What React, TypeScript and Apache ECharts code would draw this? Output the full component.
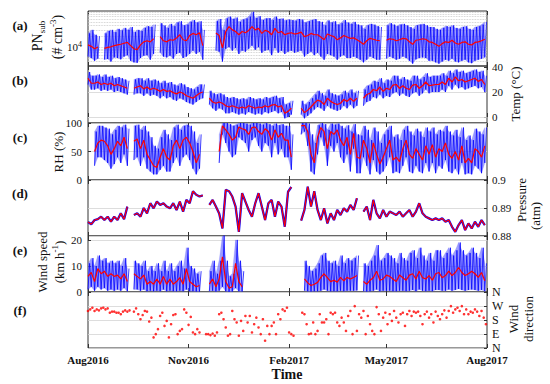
import React, { useEffect, useRef } from 'react';
import * as echarts from 'echarts';

// ---------- data (3-day sampling from 1 Aug 2016) ----------
const START = new Date(2016, 7, 1).getTime();
const END = new Date(2017, 7, 1).getTime();
const DAY = 86400000;
const STEP_DAYS = 3;
const DIR_STEP_DAYS = 2;
const TICK_DATES: number[][] = [[2016, 7, 1], [2016, 10, 1], [2017, 1, 1], [2017, 4, 1], [2017, 7, 1]];
const MONTHS = ['Jan', 'Feb', 'Mar', 'Apr', 'May', 'Jun', 'Jul', 'Aug', 'Sep', 'Oct', 'Nov', 'Dec'];

// (a) PN_sub, # cm^-3
const PN_RED = [11500,10500,9000,10000,null,9200,9800,10200,11000,11500,12000,12800,13500,11000,9000,8500,11500,14000,15000,14000,17000,null,19500,15000,14000,16000,15500,18000,22000,16000,15000,21000,24000,22000,25000,11000,null,null,null,24500,21000,9500,27000,37000,30000,27000,22000,27000,25000,29000,37000,30000,33000,24000,29000,27000,22000,33000,25000,27000,22000,24000,25000,23000,24000,26000,19500,21000,24000,22000,22000,19000,16000,23000,21000,19500,16000,18000,21000,19000,17500,18000,16000,14000,12000,15000,17500,16500,15500,15000,null,15500,17000,16500,15000,16000,17500,17000,14000,12000,15500,16000,17000,16500,14000,13500,12000,10500,12500,14000,13500,15500,13000,12000,13500,14000,12000,11500,13500,14000,15000,16500];
const PN_HI = [24000,30000,22000,20000,null,24000,28000,30000,26000,32000,29000,34000,30000,36000,26000,30000,28000,34000,38000,36000,42000,null,46000,40000,34000,44000,38000,48000,52000,40000,42000,50000,56000,48000,52000,30000,null,null,null,52000,60000,30000,62000,70000,60000,66000,50000,58000,62000,70000,95000,64000,72000,56000,62000,64000,56000,70000,60000,62000,55000,58000,56000,54000,60000,58000,48000,52000,56000,60000,52000,50000,40000,55000,48000,52000,42000,46000,56000,48000,44000,50000,42000,40000,32000,40000,44000,42000,38000,36000,null,40000,46000,42000,38000,42000,44000,40000,36000,32000,40000,42000,44000,40000,36000,36000,32000,30000,34000,38000,36000,40000,34000,32000,36000,38000,32000,30000,36000,38000,42000,50000];
const PN_LO = [5500,5000,4200,4800,null,4500,4700,4000,5200,5000,4600,5500,6000,4200,3800,3700,5000,5800,6000,4500,6500,null,7000,5500,5200,5800,4800,6500,7000,5000,5500,6500,8000,6500,7500,4500,null,null,null,8000,7500,4000,9000,10000,8000,9500,6500,8000,7500,9000,11000,8500,10000,7000,8000,8500,6000,9500,7000,8000,6500,7500,8000,7000,7500,8000,5500,6500,7500,6000,7000,5500,4500,6500,6000,5500,4500,5500,6000,5000,5000,5500,5000,4500,3800,4500,5500,5000,4500,4500,null,4800,5500,5000,4500,4800,5500,5000,4200,3500,4600,5000,5200,5000,4200,4200,3800,3500,4000,4500,4200,4800,4000,3800,4200,4500,3800,3600,4200,4500,4800,5200];

// (b) Temperature, deg C
const T_RED = [31,27,27,28,26,27,26,27,25,26,25,24,23,null,23,24,25,22.5,24,22,23,22,20.5,22,20.5,21,19.5,18.5,20,19,17,16,15,17,19,20,null,15,12,11,12,11,9,8,9,8,7,8,7,9,8,7,8,7.5,9,8,9.5,10,8,9,3,4.5,7,null,null,7,3.5,5.5,8,11,13.5,12.5,10,15,12.5,11,10,11,14,12.5,15,12.5,15,null,15,18,19,22,21,24,20.5,23,22,25.5,26,23,25,23,22,25.5,26,23,25,28,25,25.5,26,26,28,26,31,28,32,29,30,28,29,30,31,28.5,30,26];
const T_HI = [36,33,33,34,32,34,32,33,31,32,31,30,29,null,30,31,31,29,31,29,30,29,27,29,27,28,26,25,27,26,24,23,22,24,26,26,null,21,19,18,19,18,16,15,16,15,14,15,14,16,15,14,15,14,16,15,16,17,15,16,10,11,13,null,null,13,10,12,15,18,21,19,17,22,19,18,17,18,21,19,22,19,21,null,22,25,26,29,28,31,27,30,29,33,33,30,32,30,29,33,33,30,32,35,32,33,33,33,35,33,37,35,38,36,37,35,36,37,38,36,37,33];
const T_LO = [26,22,22,23,21,22,21,22,20,21,20,19,18,null,18,19,19,17,19,17,18,17,15,17,15,16,14,13,15,14,12,11,10,12,14,15,null,10,7,5,7,6,3,3,4,3,2,3,2,4,3,2,3,2,4,3,4,5,3,4,-1,0,2,null,null,2,-1,1,3,6,8,7,5,9,7,6,5,6,9,7,10,7,9,null,9,12,13,16,15,18,15,17,16,19,20,17,19,17,16,19,20,17,19,22,19,20,20,20,22,20,25,22,26,23,24,22,23,24,25,23,24,20];

// (c) Relative humidity, %
const RH_RED = [null,null,50,65,70,68,60,45,55,68,60,75,55,null,68,72,55,70,45,35,25,22,40,55,40,35,60,70,55,70,75,65,50,30,45,null,null,null,null,null,50,95,88,80,70,75,93,90,88,80,92,93,85,80,90,85,70,88,75,82,70,70,40,null,null,95,96,85,45,30,75,92,85,55,85,80,88,70,60,75,45,82,40,38,70,55,30,65,45,28,40,55,70,35,40,32,55,70,45,38,55,45,35,60,45,62,40,55,50,65,45,38,50,35,60,30,38,30,55,50,40,60];
const RH_HI = [null,null,85,95,95,92,90,80,88,95,92,97,90,null,95,97,88,95,85,75,60,55,75,88,80,70,92,97,88,95,97,95,85,65,80,null,null,null,null,null,80,100,100,98,95,97,100,100,99,97,100,100,99,97,100,98,95,99,96,98,95,95,80,null,null,100,100,99,80,65,96,100,98,88,99,97,99,95,90,96,85,98,80,78,95,88,70,92,85,65,80,88,95,75,80,70,88,95,85,78,90,85,75,92,85,92,80,88,85,95,85,78,88,75,92,70,78,70,90,85,80,92];
const RH_LO = [null,null,25,40,40,35,30,20,28,40,30,45,25,null,35,40,25,40,20,15,10,10,18,25,15,15,30,40,25,40,45,35,20,10,20,null,null,null,null,null,30,80,65,50,40,45,75,70,65,50,70,75,60,50,65,60,40,65,45,55,40,40,18,null,null,80,85,60,15,10,45,75,60,25,60,50,65,40,30,45,15,55,12,12,40,25,10,35,15,10,15,25,40,12,15,12,25,40,15,12,25,15,12,30,15,30,12,25,20,35,15,12,20,10,30,10,12,10,25,20,12,30];

// (d) Pressure, atm
const P_RED = [0.885,0.8842,0.8857,0.886,0.8869,0.8857,0.8869,0.8851,0.8869,0.8857,0.8881,0.886,0.8905,null,0.8875,0.8881,0.8869,0.89,0.8881,0.8917,0.8899,0.8923,0.8911,0.8917,0.8905,0.8899,0.8917,0.8893,0.8923,0.8887,0.8929,0.8917,0.896,0.8947,0.8941,0.8945,null,0.8911,0.8929,0.8905,0.888,0.8827,0.8965,0.896,0.8941,0.8905,0.8815,0.8953,0.8923,0.8893,0.8869,0.8917,0.8953,0.8905,0.8857,0.8917,0.8929,0.8869,0.8923,0.8905,0.8833,0.8958,0.8975,null,null,0.8855,0.8893,0.8976,0.8905,0.896,0.8893,0.8857,0.8899,0.8845,0.8881,0.8857,0.8893,0.8875,0.8899,0.8887,0.8911,0.8893,0.8935,null,0.8887,0.8905,0.8857,0.8929,0.8881,0.8863,0.8893,0.8869,0.8887,0.8881,0.8875,0.8887,0.8869,0.8881,0.8893,0.8869,0.8887,0.8917,0.8881,0.8869,0.8863,0.8857,0.8863,0.8857,0.8863,0.8851,0.8857,0.8833,0.8815,0.8839,0.8857,0.8821,0.8845,0.8827,0.8851,0.8833,0.8857,0.8839];

// (e) Wind speed, km/h
const WS_RED = [6,7.5,4,9,7,8,6,7,6,6.5,5,7,4,null,7,6,5,6.5,3,4,3,5,3,6,3,5,3,4,5.5,3,9,4,3,2,2.5,null,null,3,5,2,5,13.5,4,1.5,2,11,4,2,null,null,null,null,null,null,null,null,null,null,null,null,null,null,null,null,null,null,5,3.5,2.5,3,3.7,5.6,7,5.5,4,4.5,3.8,5.6,4.3,5.6,5,5.6,6.3,null,4,3,4.5,5.5,8,4.5,5,6.5,6,5,4,6.5,5.5,4.5,6.5,7,5,8,5.5,5,6.3,4.5,7,7.5,5.5,6.3,8,6.3,7.5,9.4,7.5,6.3,7,8,7,5.6,7.5,4.3];
const WS_HI = [11,13,10,14,12,13,11,12,11,12,10,13,9,null,12,11,10,12,8,10,8,11,8,12,8,11,8,10,12,9,17,10,9,7,8,null,null,8,12,7,12,22,12,6,7,20,12,8,null,null,null,null,null,null,null,null,null,null,null,null,null,null,null,null,null,null,12,10,8,9,11,14,15,12,11,12,10,14,11,13,12,13,14,null,11,10,12,14,18,12,13,15,14,13,11,15,13,12,15,16,13,17,14,12,15,12,16,16,13,15,17,14,16,19,16,14,15,17,15,13,17,11];
const WS_LO = [1,2,0.5,2,1,1.5,0.5,1,0.5,1,0.5,1.5,0.3,null,1,1,0.5,1,0.3,0.5,0.3,0.5,0.3,1,0.3,0.5,0.3,0.3,0.5,0.3,1,0.3,0.3,0.2,0.2,null,null,0.3,0.5,0.2,0.5,2,0.3,0.1,0.2,1.5,0.3,0.2,null,null,null,null,null,null,null,null,null,null,null,null,null,null,null,null,null,null,0.5,0.3,0.2,0.3,0.3,0.5,1,0.5,0.3,0.3,0.3,0.5,0.3,0.5,0.5,0.5,0.6,null,0.3,0.2,0.3,0.5,1,0.3,0.5,0.5,0.5,0.3,0.3,0.5,0.5,0.3,0.5,0.8,0.3,1,0.5,0.3,0.5,0.3,0.8,0.8,0.5,0.5,1,0.5,0.8,1.2,0.8,0.5,0.8,1,0.8,0.5,0.8,0.3];

// (f) Wind direction, degrees (2-day sampling)
const WD = [238,248,259,238,248,242,255,259,248,255,227,234,234,227,227,217,234,242,234,242,null,234,255,217,185,212,238,234,170,195,68,89,121,206,227,142,174,68,153,212,217,89,110,121,248,227,149,200,100,89,121,100,null,null,89,89,83,93,79,100,217,227,185,132,79,89,238,185,164,79,174,110,206,164,206,100,153,195,132,89,185,47,142,89,142,164,89,217,185,248,238,259,100,89,79,null,null,null,227,217,153,89,93,164,89,110,217,164,164,185,89,227,217,227,164,142,195,164,110,206,238,89,269,110,217,195,238,89,206,153,110,89,263,217,110,195,227,153,217,174,238,195,164,217,227,142,217,238,206,234,227,234,206,153,217,234,195,217,164,234,206,185,217,242,195,238,269,227,248,259,238,269,217,248,217,234,227,248,234,206,238,195,153];

const PN_GRID = [4000,5000,6000,7000,8000,9000,10000,20000,30000,40000,50000,60000,70000,80000,90000];
const T_GRID = [0, 20];
const T_LABELS = [0, 20, 40];
const DIR_LABELS: Record<number, string> = { 0: 'N', 90: 'E', 180: 'S', 270: 'W', 360: 'N' };

// ---------- helpers ----------
const FONT = '"Liberation Serif", "DejaVu Serif", serif';
const t = (d: number) => START + d * DAY;
const TICKS = TICK_DATES.map(([y, m, d]) => new Date(y, m, d).getTime());

function lineData(arr: (number | null)[], step: number) {
  return arr.map((v, i) => [t(i * step), v == null ? null : v]);
}
// quads between consecutive samples: [t0, lo0, hi0, t1, lo1, hi1]
function bandData(lo: (number | null)[], hi: (number | null)[], step: number) {
  const out: number[][] = [];
  for (let i = 0; i < lo.length - 1; i++) {
    const a = lo[i], b = hi[i], c = lo[i + 1], d = hi[i + 1];
    if (a == null || b == null || c == null || d == null) continue;
    out.push([t(i * step), a, b, t((i + 1) * step), c, d]);
  }
  return out;
}
function zigData(lo: (number | null)[], hi: (number | null)[], step: number) {
  const out: any[] = [];
  lo.forEach((l, i) => {
    const h = hi[i];
    if (l == null || h == null) out.push([t(i * step), null]);
    else {
      out.push([t(i * step), l]);
      out.push([t(i * step + step / 2), h]);
    }
  });
  return out;
}

const GRIDS = [
  { top: 11, height: 55 },
  { top: 66, height: 57 },
  { top: 123, height: 57 },
  { top: 180, height: 56 },
  { top: 236, height: 56 },
  { top: 292, height: 56 },
];

const RED = '#ff0000';
const BLUE = '#0000ff';
const BAND = 'rgba(100,100,255,0.6)';

function buildOption() {
  const grid = GRIDS.map((g) => ({
    left: 88, width: 399, top: g.top, height: g.height,
    show: true, borderColor: '#333', borderWidth: 1, backgroundColor: 'transparent',
  }));

  const xAxis: any[] = [];
  GRIDS.forEach((_, gi) => {
    const tick = { show: true, inside: true, length: 4, customValues: TICKS, lineStyle: { color: '#333', width: 1 } };
    xAxis.push({
      type: 'value', gridIndex: gi, min: START, max: END, position: 'bottom',
      axisLine: { show: false }, splitLine: { show: false }, axisTick: tick,
      axisLabel: gi === 5 ? {
        show: true, customValues: TICKS, margin: 6, fontFamily: FONT, fontSize: 11, fontWeight: 'bold', color: '#111',
        showMinLabel: true, showMaxLabel: true,
        formatter: (v: number) => { const d = new Date(v + 3600000 * 12); return MONTHS[d.getMonth()] + d.getFullYear(); },
      } : { show: false },
    });
    xAxis.push({
      type: 'value', gridIndex: gi, min: START, max: END, position: 'top',
      axisLine: { show: false }, splitLine: { show: false }, axisTick: tick, axisLabel: { show: false },
    });
  });

  const lab = { fontFamily: FONT, fontSize: 11, color: '#111' };
  const ytick = { show: true, inside: true, length: 3, lineStyle: { color: '#333' } };
  const split = { show: true, lineStyle: { color: '#d4d4d4', width: 0.8 } };
  const yAxis: any[] = [
    {
      type: 'log', gridIndex: 0, min: 3000, max: 100000, position: 'left', logBase: 10,
      axisLine: { show: false }, axisTick: { show: false }, splitLine: { show: false },
      axisLabel: {
        ...lab, margin: 6, showMinLabel: false, showMaxLabel: false,
        formatter: (v: number) => (Math.abs(v - 10000) < 1 ? '{b|10}{s|4}' : ''),
        rich: { b: { fontFamily: FONT, fontSize: 11, lineHeight: 14, color: '#111' }, s: { fontFamily: FONT, fontSize: 8, lineHeight: 14, verticalAlign: 'top', color: '#111' } },
      },
    },
    {
      type: 'value', gridIndex: 1, min: -4.8, max: 40.8, position: 'right',
      axisLine: { show: false }, splitLine: { show: false },
      axisTick: { ...ytick, customValues: T_LABELS },
      axisLabel: { ...lab, margin: 5, customValues: T_LABELS },
    },
    {
      type: 'value', gridIndex: 2, min: 0, max: 100, interval: 50, position: 'left',
      axisLine: { show: false }, splitLine: split, axisTick: ytick,
      axisLabel: { ...lab, margin: 6 },
    },
    {
      type: 'value', gridIndex: 3, min: 0.88, max: 0.9, interval: 0.01, position: 'right',
      axisLine: { show: false }, splitLine: split, axisTick: ytick,
      axisLabel: { ...lab, margin: 5, formatter: (v: number) => String(+v.toFixed(2)) },
    },
    {
      type: 'value', gridIndex: 4, min: 0, max: 21.5, interval: 10, position: 'left',
      axisLine: { show: false }, splitLine: split, axisTick: ytick,
      axisLabel: { ...lab, margin: 6, showMaxLabel: false, formatter: (v: number) => (v % 10 === 0 ? String(v) : '') },
    },
    {
      type: 'value', gridIndex: 5, min: 0, max: 360, interval: 90, position: 'right',
      axisLine: { show: false }, splitLine: split, axisTick: ytick,
      axisLabel: { ...lab, fontSize: 12, margin: 5, formatter: (v: number) => DIR_LABELS[v] ?? '' },
    },
  ];

  const base = { type: 'line', showSymbol: false, silent: true, animation: false, connectNulls: false };
  const gridMark = (vals: number[], dotted: boolean) => ({
    silent: true, symbol: 'none', z: 1, animation: false,
    label: { show: false },
    lineStyle: { color: dotted ? '#c4c4c4' : '#d4d4d4', type: dotted ? 'dotted' : 'solid', width: 0.8 },
    data: vals.map((v) => ({ yAxis: v })),
  });
  // light-blue envelope (custom quads) and dark-blue zigzag of lows/highs
  const envelope = (gi: number, lo: (number | null)[], hi: (number | null)[], marks?: any) => [
    {
      type: 'custom', xAxisIndex: gi * 2, yAxisIndex: gi, silent: true, animation: false, z: 2, clip: true,
      data: bandData(lo, hi, STEP_DAYS),
      ...(marks ? { markLine: marks } : {}),
      renderItem: (params: any, api: any) => {
        const p1 = api.coord([api.value(0), api.value(1)]);
        const p2 = api.coord([api.value(3), api.value(4)]);
        const p3 = api.coord([api.value(3), api.value(5)]);
        const p4 = api.coord([api.value(0), api.value(2)]);
        const cs = params.coordSys;
        return {
          type: 'polygon',
          shape: { points: [p1, p2, p3, p4] },
          style: { fill: BAND, stroke: BAND, lineWidth: 0.3 },
          clipPath: { type: 'rect', shape: { x: cs.x, y: cs.y, width: cs.width, height: cs.height } },
        };
      },
      encode: { x: 0, y: 1 },
      dimensions: ['t0', 'lo0', 'hi0', 't1', 'lo1', 'hi1'],
    },
    { ...base, xAxisIndex: gi * 2, yAxisIndex: gi, data: zigData(lo, hi, STEP_DAYS), z: 3,
      lineStyle: { color: BLUE, width: 0.85, opacity: 0.9 } },
  ];
  const red = (gi: number, data: any[]) => ({
    ...base, xAxisIndex: gi * 2, yAxisIndex: gi, data, z: 4,
    lineStyle: { color: RED, width: 1.2 },
  });

  const series: any[] = [
    ...envelope(0, PN_LO, PN_HI, gridMark(PN_GRID, true)),
    red(0, lineData(PN_RED, STEP_DAYS)),
    ...envelope(1, T_LO, T_HI, gridMark(T_GRID, false)),
    red(1, lineData(T_RED, STEP_DAYS)),
    ...envelope(2, RH_LO, RH_HI),
    red(2, lineData(RH_RED, STEP_DAYS)),
    { ...base, xAxisIndex: 6, yAxisIndex: 3, data: lineData(P_RED, STEP_DAYS), z: 2, lineStyle: { color: BLUE, width: 2.3 } },
    red(3, lineData(P_RED, STEP_DAYS)),
    ...envelope(4, WS_LO, WS_HI),
    red(4, lineData(WS_RED, STEP_DAYS)),
    {
      type: 'scatter', xAxisIndex: 10, yAxisIndex: 5, silent: true, animation: false,
      symbol: 'circle', symbolSize: 2.6, itemStyle: { color: RED },
      data: lineData(WD, DIR_STEP_DAYS).filter((d) => d[1] != null),
    },
  ];

  const txt = (text: string, x: number, y: number, size: number, opts: any = {}) => ({
    type: 'text', x, y, rotation: opts.rot ? Math.PI / 2 : 0, silent: true,
    style: {
      text, fontFamily: FONT, fontSize: size, fontWeight: opts.bold ? 'bold' : 'normal', fill: '#111',
      align: 'center', verticalAlign: 'middle', textAlign: 'center', textVerticalAlign: 'middle',
      rich: opts.rich,
    },
  });
  const richName = {
    m: { fontFamily: FONT, fontSize: 14, lineHeight: 18, fill: '#111' },
    s: { fontFamily: FONT, fontSize: 9, lineHeight: 18, verticalAlign: 'bottom', fill: '#111' },
    p: { fontFamily: FONT, fontSize: 9, lineHeight: 18, verticalAlign: 'top', fill: '#111' },
  };

  const graphic: any[] = [
    txt('(a)', 20, 25, 13, { bold: true }),
    txt('(b)', 20, 80, 13, { bold: true }),
    txt('(c)', 20, 137, 13, { bold: true }),
    txt('(d)', 20, 193, 13, { bold: true }),
    txt('(e)', 20, 250, 13, { bold: true }),
    txt('(f)', 20, 310, 13, { bold: true }),
    txt('{m|PN}{s|sub}', 37, 36, 14, { rot: true, rich: richName }),
    txt('{m|(# cm}{p|-3}{m|)}', 57, 37, 14, { rot: true, rich: richName }),
    txt('Temp (°C)', 515, 94, 13, { rot: true }),
    txt('RH (%)', 58, 152, 13, { rot: true }),
    txt('Pressure', 521, 200, 13, { rot: true }),
    txt('(atm)', 535, 216, 13, { rot: true }),
    txt('Wind speed', 42, 262, 13, { rot: true }),
    txt('{m|(km h}{p|-1}{m|)}', 59, 262, 13, { rot: true, rich: { ...richName, m: { ...richName.m, fontSize: 13 } } }),
    txt('Wind', 513, 319, 13, { rot: true }),
    txt('direction', 528, 319, 13, { rot: true }),
    txt('Time', 287, 374, 14, { bold: true }),
  ];

  return { animation: false, backgroundColor: '#ffffff', grid, xAxis, yAxis, series, graphic };
}

export default function App() {
  const ref = useRef<HTMLDivElement>(null);
  useEffect(() => {
    if (!ref.current) return;
    const chart = echarts.init(ref.current, null, { renderer: 'svg' });
    chart.setOption(buildOption() as any);
    return () => chart.dispose();
  }, []);
  return <div ref={ref} style={{ position: 'fixed', left: 0, top: 0, width: 550, height: 384 }} />;
}
